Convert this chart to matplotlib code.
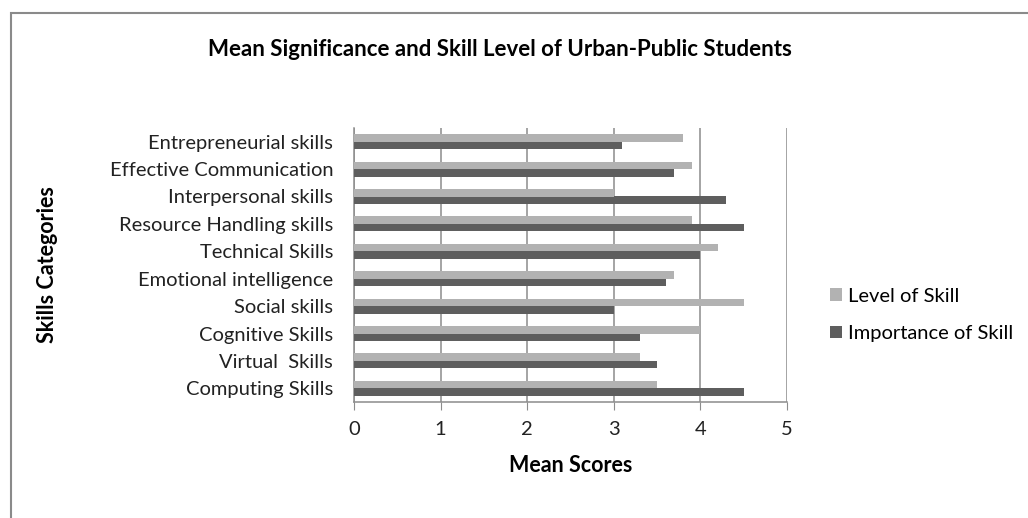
import matplotlib
matplotlib.use("Agg")
import matplotlib.pyplot as plt
import numpy as np
from matplotlib.patches import Rectangle

plt.rcParams['font.family'] = ['Lato', 'DejaVu Sans']

categories = ["Computing Skills", "Virtual  Skills", "Cognitive Skills", "Social skills",
              "Emotional intelligence", "Technical Skills", "Resource Handling skills",
              "Interpersonal skills", "Effective Communication", "Entrepreneurial skills"]
importance = [4.5, 3.5, 3.3, 3.0, 3.6, 4.0, 4.5, 4.3, 3.7, 3.1]
level = [3.5, 3.3, 4.0, 4.5, 3.7, 4.2, 3.9, 3.0, 3.9, 3.8]
x_ticks = [0, 1, 2, 3, 4, 5]

light = "#b2b2b2"
dark = "#5e5e5e"
grid_col = "#8c8c8c"

fig = plt.figure(figsize=(10.28, 5.18), dpi=100)
# chart frame
fig.patches.append(Rectangle((11 / 1028, -0.1), 1.2, (518 - 13) / 518 + 0.1,
                             transform=fig.transFigure, fill=False,
                             edgecolor="#8a8a8a", linewidth=1.5))

ax = fig.add_axes([354 / 1028, (518 - 402) / 518, 433 / 1028, 274 / 518])
y = np.arange(len(categories))
h = 0.275
ax.barh(y - h / 2, importance, height=h, color=dark, label="Importance of Skill", zorder=3)
ax.barh(y + h / 2, level, height=h, color=light, label="Level of Skill", zorder=3)

ax.set_xlim(0, 5)
ax.set_ylim(-0.5, len(categories) - 0.5)
ax.set_xticks(x_ticks)
ax.set_xticklabels([str(t) for t in x_ticks], fontsize=14.5, color="#222222")
ax.set_yticks(y)
ax.set_yticklabels(categories, fontsize=14.5, color="#222222")
ax.tick_params(axis='y', length=0, pad=15)
ax.tick_params(axis='x', length=6, color=grid_col, pad=8)
ax.grid(axis='x', color=grid_col, linewidth=1.1, zorder=0)
for side in ("top", "right"):
    ax.spines[side].set_visible(False)
for side in ("left", "bottom"):
    ax.spines[side].set_color(grid_col)
    ax.spines[side].set_linewidth(1.1)

ax.set_xlabel("Mean Scores", fontsize=15.5, fontweight="bold", labelpad=12)
fig.text(48 / 1028, 1 - 265 / 518, "Skills Categories", rotation=90, fontsize=15.5,
         fontweight="bold", ha="center", va="center")
fig.text(500 / 1028, 1 - 50 / 518, "Mean Significance and Skill Level of Urban-Public Students",
         fontsize=16, fontweight="bold", ha="center", va="center")

handles, labels = ax.get_legend_handles_labels()
leg = fig.legend(handles[::-1], labels[::-1], loc="center left",
                 bbox_to_anchor=(812 / 1028, 1 - 315 / 518), frameon=False,
                 fontsize=14.5, handlelength=0.6, handleheight=0.6,
                 handletextpad=0.3, labelspacing=1.0)

fig.savefig("out.png", dpi=100)
